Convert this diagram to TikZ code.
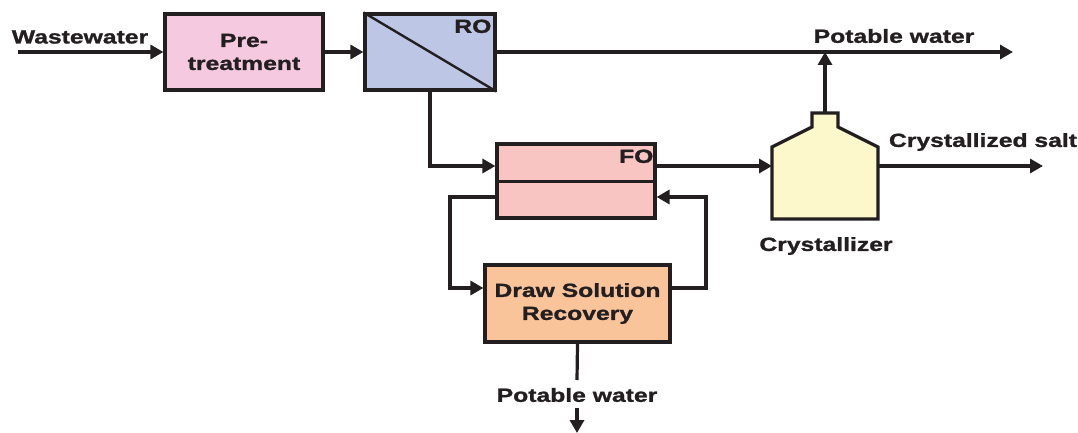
\documentclass[tikz,border=0pt]{standalone}
\usepackage{fontspec}
\setmainfont[FakeStretch=1.3,BoldFeatures={FakeBold=1.3}]{Liberation Sans}
\usetikzlibrary{arrows.meta,calc}
\definecolor{ink}{HTML}{231F20}
\definecolor{prefill}{HTML}{F5C9E0}
\definecolor{rofill}{HTML}{BEC6E6}
\definecolor{fofill}{HTML}{F9C5C2}
\definecolor{dsrfill}{HTML}{FAC49B}
\definecolor{cryfill}{HTML}{FCF8CB}
\begin{document}
\begin{tikzpicture}[x=1pt,y=-1pt,
  box/.style={draw=ink,line width=3.2pt,rectangle,inner sep=0pt,align=center,
    font=\bfseries\fontsize{19}{23}\selectfont,text=ink},
  lbl/.style={font=\bfseries\fontsize{19}{22}\selectfont,text=ink,inner sep=0pt},
  flow/.style={draw=ink,line width=3.2pt,-{Triangle[length=13pt,width=14pt]}},
  pipe/.style={draw=ink,line width=3.2pt}]
\useasboundingbox (0,0) rectangle (1078,433);
% boxes
\node[box,fill=prefill,minimum width=158pt,minimum height=76pt] (pre) at (244,52) {Pre-\\treatment};
\node[box,fill=rofill,minimum width=130pt,minimum height=76pt] (ro) at (430,52) {};
\draw[ink,line width=2.4pt] (ro.north west) -- (ro.south east);
\node[lbl,anchor=north east] (rolbl) at ([xshift=-5pt,yshift=-7pt]ro.north east) {RO};
\node[box,fill=fofill,minimum width=158pt,minimum height=74pt] (fo) at (576,181) {};
\draw[ink,line width=3pt] (fo.west) -- (fo.east);
\node[lbl,anchor=north east] (folbl) at ([xshift=-3pt,yshift=-7pt]fo.north east) {FO};
\node[box,fill=dsrfill,minimum width=185pt,minimum height=77pt] (dsr) at (577.5,303.5) {Draw Solution\\Recovery};
% crystallizer
\draw[draw=ink,fill=cryfill,line width=3.2pt,line join=miter]
  (772,219) -- (772,147) -- (812,127) -- (812,113) -- (838,113) -- (838,127) -- (878,147) -- (878,219) -- cycle;
\coordinate (cryL) at (772,166);
\coordinate (cryR) at (878,166);
\coordinate (cryT) at (825,113);
% coordinates
\coordinate (wwstart) at (18,52);
\coordinate (pwend) at (1013,52);
\coordinate (saltend) at (1043,166);
\coordinate (loopL) at (450,197);
\coordinate (loopR) at (706,197);
\coordinate (dsrin) at (450,288);
\coordinate (dsrout) at (706,288);
\coordinate (pwlow) at (577,380);
\coordinate (pwarrs) at (577,408);
\coordinate (pwarre) at (577,433);
% labels
\node[lbl] (ww) at (80,37) {Wastewater};
\node[lbl] (pwtop) at (894,36) {Potable water};
\node[lbl] (salt) at (983,142) {Crystallized salt};
\node[lbl] (crylbl) at (826,246) {Crystallizer};
\node[lbl] (pwbot) at (577,395) {Potable water};
% connectors
\draw[flow] (wwstart) -- (pre.west);
\draw[flow] (pre.east) -- (ro.west);
\draw[flow] (ro.east) -- (pwend);
\draw[flow] (ro.south) |- (fo.west |- cryL);
\draw[flow] (fo.east |- cryL) -- (cryL);
\draw[flow] (cryT) -- (cryT |- ro.east);
\draw[flow] (cryR) -- (saltend);
\draw[flow] (fo.west |- loopL) -- (loopL) -- (dsrin) -- (dsr.west |- dsrin);
\draw[flow] (dsr.east |- dsrout) -- (dsrout) -- (loopR) -- (fo.east |- loopR);
\draw[pipe] (dsr.south) -- (pwlow);
\draw[flow] (pwarrs) -- (pwarre);
\end{tikzpicture}
\end{document}
